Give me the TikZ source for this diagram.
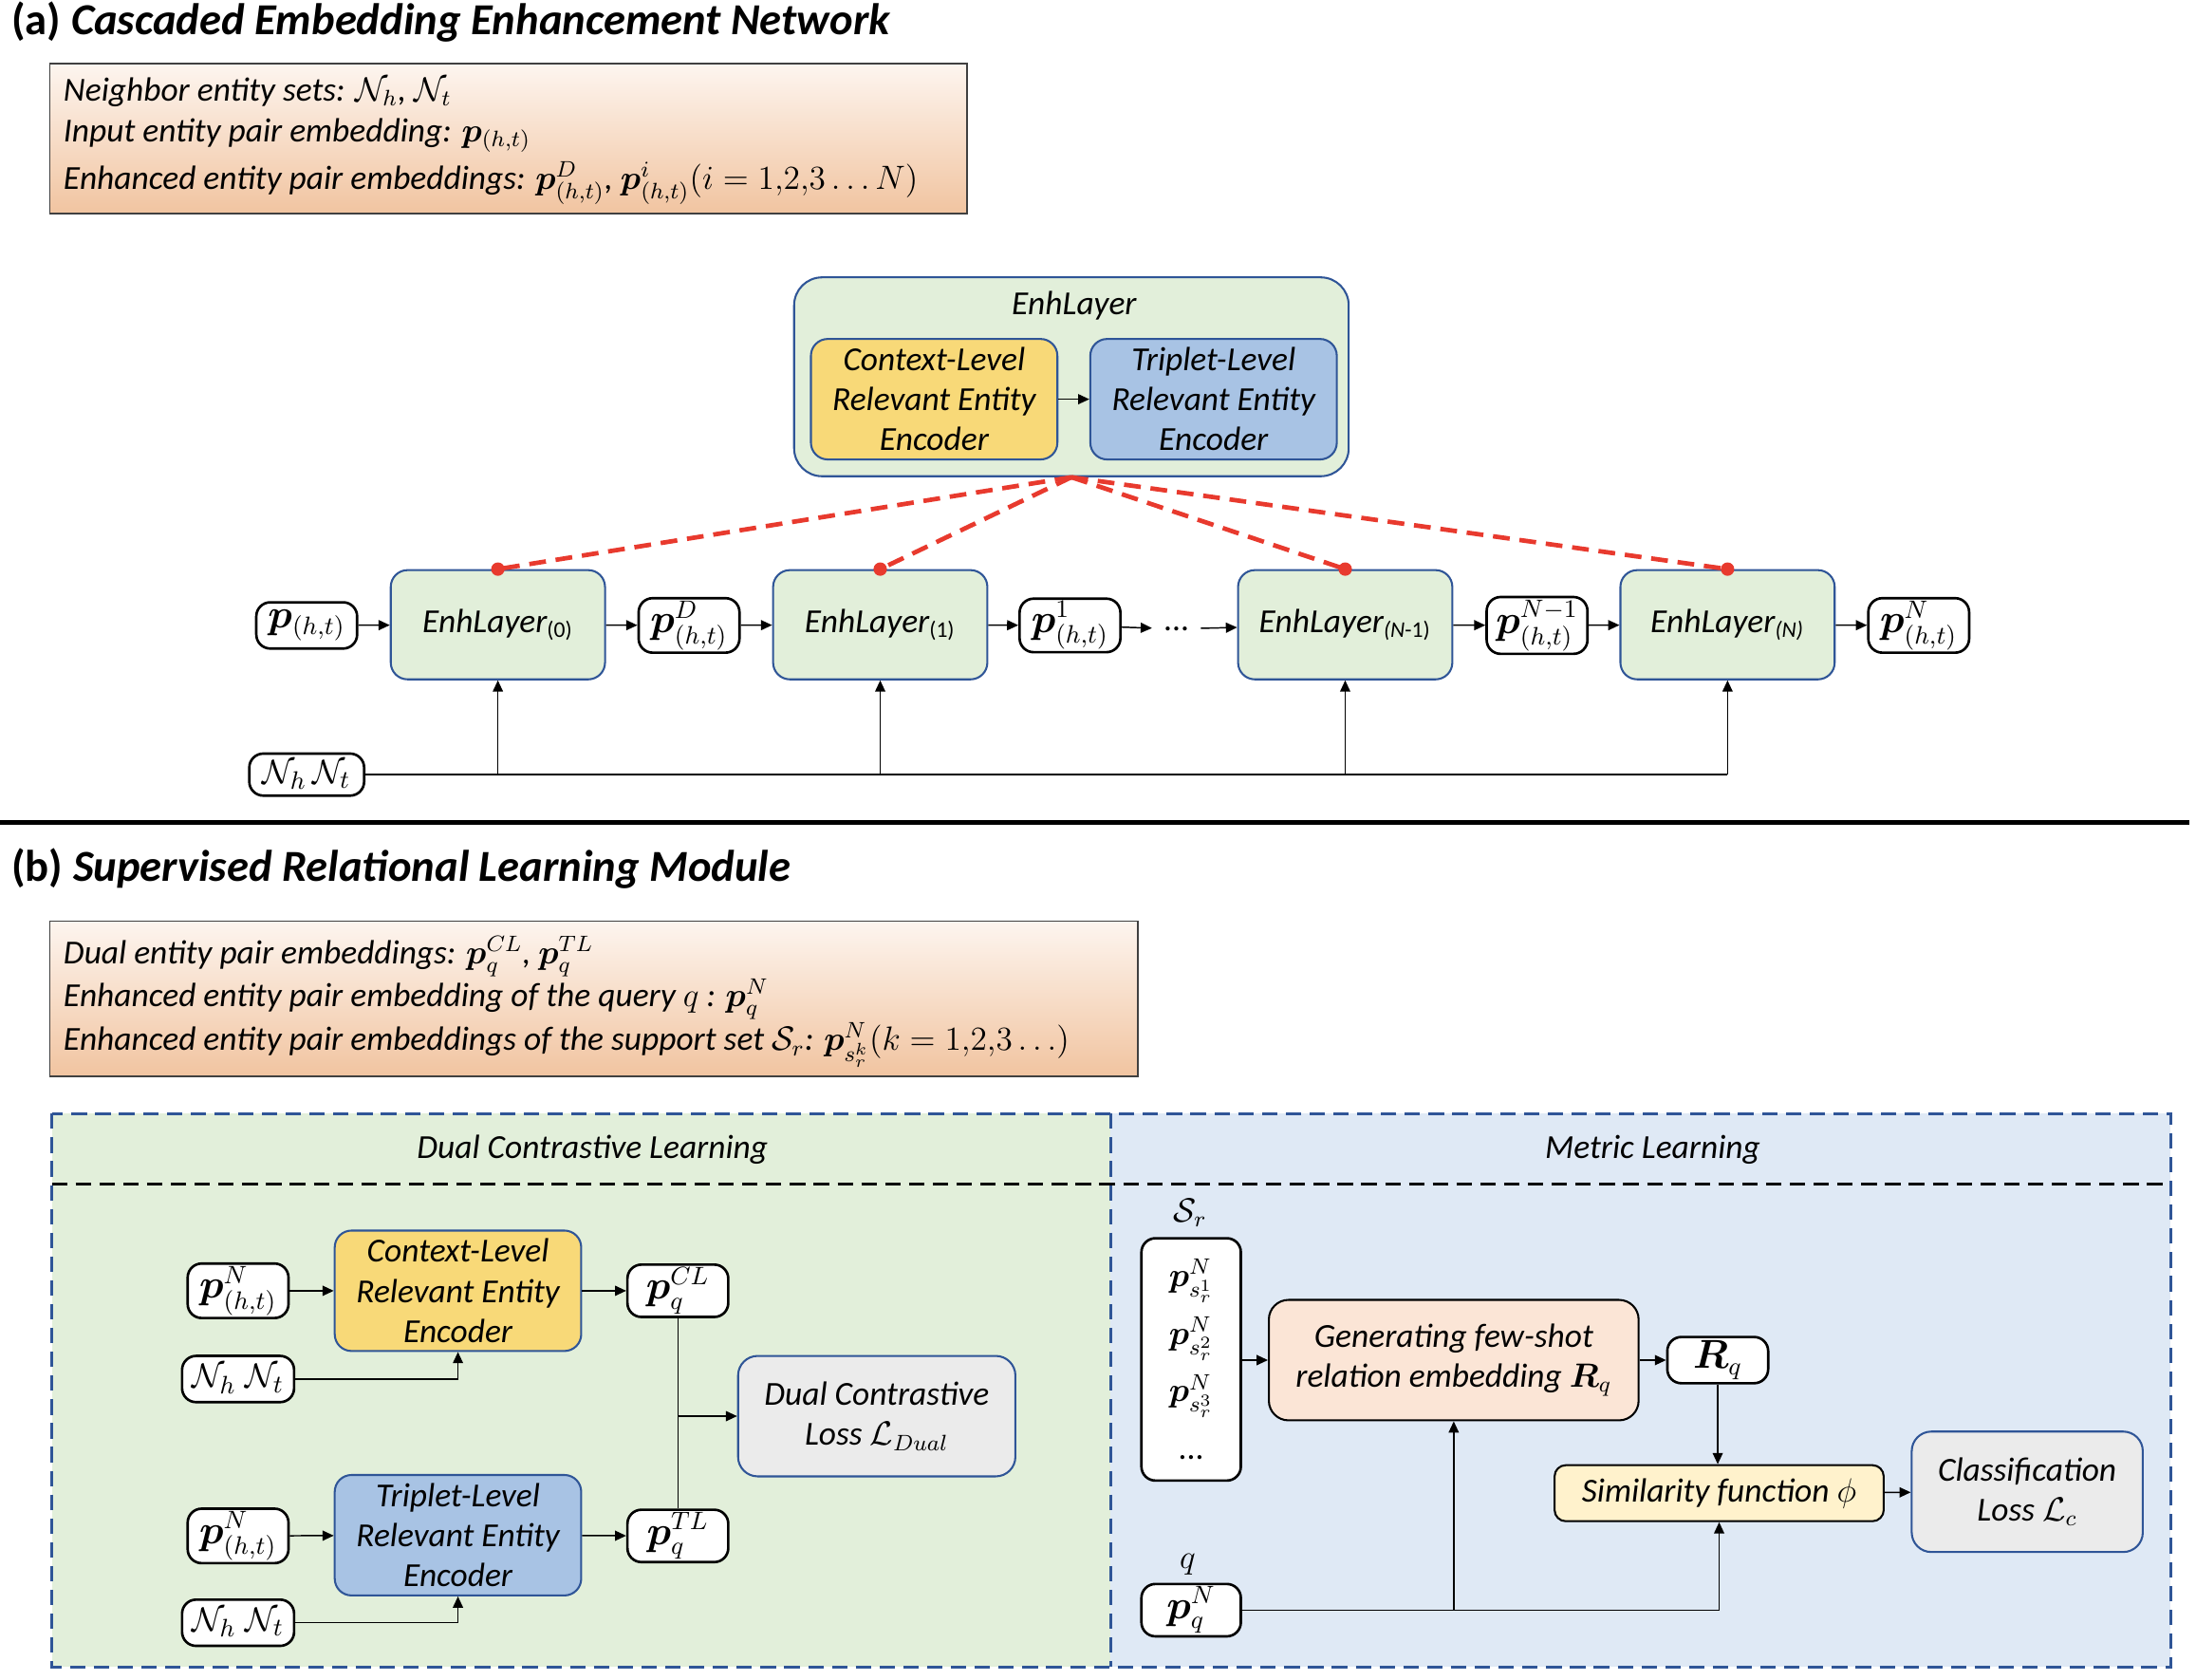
\documentclass[tikz,border=0pt]{standalone}
\usepackage{amsmath}
\usepackage{bm}
\usepackage{fontspec}
\setmainfont{Carlito}
\usepackage{xcolor}
\usetikzlibrary{calc}
\usetikzlibrary{arrows.meta}

\definecolor{enhgreen}{HTML}{E2EFDA}
\definecolor{enhblue}{HTML}{2F5597}
\definecolor{ctxgold}{HTML}{F8D978}
\definecolor{tripblue}{HTML}{A8C3E4}
\definecolor{lossgray}{HTML}{EBEBEB}
\definecolor{genpeach}{HTML}{FBE5D6}
\definecolor{simyellow}{HTML}{FFF2CC}
\definecolor{panelblue}{HTML}{DFE9F5}
\definecolor{dotred}{HTML}{E83A2E}
\definecolor{infotop}{HTML}{FDF5EF}
\definecolor{infobot}{HTML}{F1C4A0}

\tikzset{
  enhbox/.style={draw=enhblue, line width=0.7pt, fill=enhgreen, rounded corners=6pt,
    minimum width=76.5pt, minimum height=39pt, align=center},
  ctxbox/.style={draw=enhblue, line width=0.7pt, fill=ctxgold, rounded corners=6pt,
    minimum width=88pt, minimum height=43pt, align=center, inner sep=1pt},
  tripbox/.style={ctxbox, fill=tripblue},
  lossbox/.style={draw=enhblue, line width=0.7pt, fill=lossgray, rounded corners=7pt,
    minimum height=43pt, align=center},
  pill/.style={draw, line width=0.9pt, fill=white, rounded corners=5pt,
    minimum width=36pt, minimum height=16.5pt, inner xsep=0.5pt, inner ysep=1pt,
    font=\fontsize{13.5}{16}\selectfont},
  nnpill/.style={pill, inner xsep=2pt, font=\fontsize{12.5}{15}\selectfont},
  infobox/.style={draw=black!75, line width=0.6pt, top color=infotop, bottom color=infobot,
    anchor=north west},
  infotext/.style={anchor=base west, inner sep=0pt},
  arr/.style={-{Triangle[length=4pt,width=3.6pt]}, line width=0.5pt},
  plain/.style={line width=0.5pt},
  reddash/.style={draw=dotred, line width=1.6pt, dash pattern=on 6pt off 3.5pt},
  paneldash/.style={line width=1pt, dash pattern=on 5.5pt off 3pt}
}

\begin{document}
\begin{tikzpicture}[x=0.5pt, y=-0.5pt, font=\fontsize{12}{14.3}\selectfont\itshape]
    \useasboundingbox (0,0) rectangle (1568,1199);

    % bagian (a): judul dan keterangan
    \node[anchor=base west, inner sep=0pt, font=\fontsize{15.8}{18}\selectfont\bfseries\upshape]
      (titleA) at (8,25) {(a) \textit{Cascaded Embedding Enhancement Network}};
    \node[infobox, minimum width=327.5pt, minimum height=53.5pt] (infoA) at (35,45) {};
    \node[infotext] (infoA1) at (45,72) {Neighbor entity sets: $\mathcal{N}_h$, $\mathcal{N}_t$};
    \node[infotext] (infoA2) at (45,101) {Input entity pair embedding: $\bm{p}_{(h,t)}$};
    \node[infotext] (infoA3) at (45,135) {Enhanced entity pair embeddings: $\bm{p}^{D}_{(h,t)}$, $\bm{p}^{i}_{(h,t)}(i=1{,}2{,}3\ldots N)$};

    % blok EnhLayer
    \node[enhbox, minimum width=198pt, minimum height=71pt, rounded corners=10pt] (enh) at (765,269) {};
    \node (enhlabel) at (767,218) {EnhLayer};
    \node[ctxbox] (ctx) at (667,285) {Context-Level\\Relevant Entity\\Encoder};
    \node[tripbox] (trip) at (866.5,285) {Triplet-Level\\Relevant Entity\\Encoder};
    \draw[arr] (ctx) -- (trip);

    % rantai lapisan
    \node[pill] (p0) at (219,446.5) {$\bm{p}_{(h,t)}$};
    \node[enhbox] (enh0) at (355.5,446) {EnhLayer\textsubscript{\upshape(0)}};
    \node[pill] (pD) at (492,446.5) {$\bm{p}^{D}_{(h,t)}$};
    \node[enhbox] (enh1) at (628.5,446) {EnhLayer\textsubscript{\upshape(1)}};
    \node[pill] (p1) at (764,446.5) {$\bm{p}^{1}_{(h,t)}$};
    \node[inner xsep=4pt] (dots) at (840,449) {\upshape...};
    \node[enhbox] (enhNm) at (960.5,446) {EnhLayer\textsubscript{(N\upshape-1)}};
    \node[pill] (pNm) at (1097.5,446.5) {$\bm{p}^{N-1}_{(h,t)}$};
    \node[enhbox] (enhN) at (1233.5,446) {EnhLayer\textsubscript{(N)}};
    \node[pill] (pN) at (1370,446.5) {$\bm{p}^{N}_{(h,t)}$};

    \draw[arr] (p0) -- (enh0);
    \draw[arr] (enh0) -- (pD);
    \draw[arr] (pD) -- (enh1);
    \draw[arr] (enh1) -- (p1);
    \draw[arr] (p1) -- (dots);
    \draw[arr] (dots) -- (enhNm);
    \draw[arr] (enhNm) -- (pNm);
    \draw[arr] (pNm) -- (enhN);
    \draw[arr] (enhN) -- (pN);

    % garis putus-putus merah
    \foreach \n in {enh0,enh1,enhNm,enhN} {
      \draw[reddash] (enh.south) -- (\n.north);
      \fill[dotred] (\n.north) circle (2.4pt);
    }

    % himpunan tetangga
    \node[nnpill, minimum width=41pt, minimum height=15pt] (nn) at (219,553) {$\mathcal{N}_h\,\mathcal{N}_t$};
    \draw[plain] (nn.east) -- (nn.east -| enhN.south);
    \foreach \n in {enh0,enh1,enhNm,enhN}
      \draw[arr] (\n.south |- nn.east) -- (\n.south);

    % garis pemisah
    \coordinate (sepL) at (0,587);
    \coordinate (sepR) at (1563,587);
    \draw[line width=1.5pt] (sepL) -- (sepR);

    % bagian (b): judul dan keterangan
    \node[anchor=base west, inner sep=0pt, font=\fontsize{15.8}{18}\selectfont\bfseries\upshape]
      (titleB) at (8,629) {(b) \textit{Supervised Relational Learning Module}};
    \node[infobox, minimum width=388.5pt, minimum height=55.5pt] (infoB) at (35,657) {};
    \node[infotext] (infoB1) at (45,688) {Dual entity pair embeddings: $\bm{p}_q^{CL}$, $\bm{p}_q^{TL}$};
    \node[infotext] (infoB2) at (45,718.5) {Enhanced entity pair embedding of the query $q$ : $\bm{p}_q^{N}$};
    \node[infotext] (infoB3) at (45,750) {Enhanced entity pair embeddings of the support set $\mathcal{S}_r$: $\bm{p}^{N}_{s_r^k}(k=1{,}2{,}3\ldots)$};

    % panel latar
    \fill[enhgreen] (37,795) rectangle (793,1190);
    \fill[panelblue] (793,795) rectangle (1550,1190);
    \draw[paneldash, draw=black] (37,845) -- (1550,845);
    \draw[paneldash, draw=enhblue] (37,795) rectangle (1550,1190);
    \draw[paneldash, draw=enhblue] (793,795) -- (793,1190);
    \node (dclhead) at (423,821) {Dual Contrastive Learning};
    \node (mlhead) at (1180,821) {Metric Learning};

    % pembelajaran kontrastif ganda
    \node[ctxbox] (ctx2) at (327,921.5) {Context-Level\\Relevant Entity\\Encoder};
    \node[tripbox] (trip2) at (327,1096) {Triplet-Level\\Relevant Entity\\Encoder};
    \node[pill] (pin1) at (170,921.5) {$\bm{p}^{N}_{(h,t)}$};
    \node[pill] (pin2) at (170,1096.5) {$\bm{p}^{N}_{(h,t)}$};
    \node[nnpill, minimum width=40pt] (nn1) at (170,984.5) {$\mathcal{N}_h\;\mathcal{N}_t$};
    \node[nnpill, minimum width=40pt] (nn2) at (170,1158.5) {$\mathcal{N}_h\;\mathcal{N}_t$};
    \node[pill] (pcl) at (484,921.5) {$\bm{p}_q^{CL}$};
    \node[pill] (ptl) at (484,1096.5) {$\bm{p}_q^{TL}$};
    \node[lossbox, minimum width=99pt] (dual) at (626,1011) {Dual Contrastive\\Loss $\mathcal{L}_{Dual}$};

    \draw[arr] (pin1) -- (ctx2);
    \draw[arr] (ctx2) -- (pcl);
    \draw[arr] (nn1.east) -| (ctx2.south);
    \draw[arr] (pin2) -- (trip2);
    \draw[arr] (trip2) -- (ptl);
    \draw[arr] (nn2.east) -| (trip2.south);
    \draw[plain] (pcl.south) -- (ptl.north);
    \draw[arr] (pcl.south |- dual.west) -- (dual.west);

    % pembelajaran metrik
    \node (srlabel) at (850,866) {$\mathcal{S}_r$};
    \node[pill, minimum width=35.5pt, minimum height=86.5pt, align=center,
      font=\fontsize{12}{20.5}\selectfont] (supp) at (850.5,970.5)
      {$\bm{p}^{N}_{s_r^1}$\\$\bm{p}^{N}_{s_r^2}$\\$\bm{p}^{N}_{s_r^3}$\\\upshape...};
    \node[draw, line width=0.7pt, fill=genpeach, rounded corners=7pt, minimum width=132pt,
      minimum height=43pt, align=center] (gen) at (1038,971)
      {Generating few-shot\\relation embedding $\bm{R}_q$};
    \node[pill] (rq) at (1226.5,971) {$\bm{R}_q$};
    \node[draw, line width=0.7pt, fill=simyellow, rounded corners=4pt, minimum width=117.5pt,
      minimum height=20pt] (sim) at (1227.5,1066) {Similarity function $\phi$};
    \node[lossbox, minimum width=82.5pt] (cls) at (1447.5,1065) {Classification\\Loss $\mathcal{L}_c$};
    \node (qlabel) at (848,1117) {$q$};
    \node[pill, minimum width=35.5pt, minimum height=17.5pt] (pq) at (850.5,1149.5) {$\bm{p}_q^{N}$};

    \draw[arr] (supp.east |- gen.west) -- (gen.west);
    \draw[arr] (gen) -- (rq);
    \draw[arr] (rq.south) -- (rq.south |- sim.north);
    \draw[arr] (sim) -- (cls);
    \draw[plain] (pq.east) -- (pq.east -| sim.south);
    \draw[arr] (gen.south |- pq.east) -- (gen.south);
    \draw[arr] (sim.south |- pq.east) -- (sim.south);
\end{tikzpicture}
\end{document}
